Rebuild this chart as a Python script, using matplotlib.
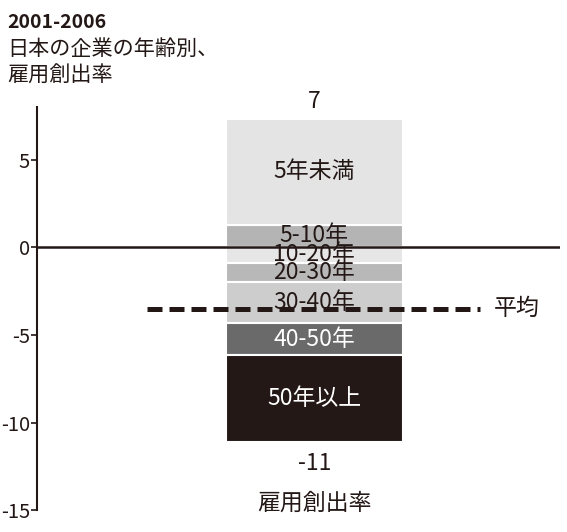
"""Stacked bar of job creation rate by firm age (Japan, 2001-2006)."""

import matplotlib

matplotlib.use("Agg")
import matplotlib.pyplot as plt

plt.rcParams["font.family"] = ["Noto Sans CJK JP", "DejaVu Sans"]

# segment data, in firm-age order
AGE_LABELS = ["5年未満", "5-10年", "10-20年", "20-30年", "30-40年", "40-50年", "50年以上"]
AGE_VALUES = [6.06, 1.28, -0.88, -1.08, -2.39, -1.78, -4.96]
AVERAGE = -3.5
TOTAL_POS_LABEL = "7"
TOTAL_NEG_LABEL = "-11"
Y_TICKS = [5, 0, -5, -10, -15]

SEG_COLORS = ["#e4e4e4", "#b4b4b4", "#e6e6e6", "#b8b8b8", "#cdcdcd", "#6a6a6a", "#231815"]
TEXT_COLORS = ["#231815"] * 5 + ["white", "white"]
INK = "#231815"

BAR_X = 0.53
BAR_W = 0.338
LABEL_SIZE = 16.5

fig = plt.figure(figsize=(5.67, 5.32), dpi=100)
ax = fig.add_axes([0.065, 0.041, 0.923, 0.758])

# positives stack upward from zero (5-10年 nearest zero), negatives downward
positives = [i for i, v in enumerate(AGE_VALUES) if v > 0][::-1]
negatives = [i for i, v in enumerate(AGE_VALUES) if v <= 0]
top = 0.0
bottom = 0.0
for idx in positives + negatives:
    value = AGE_VALUES[idx]
    if value > 0:
        base = top
        top += value
    else:
        base = bottom
        bottom += value
    ax.bar(BAR_X, value, BAR_W, bottom=base, color=SEG_COLORS[idx],
           edgecolor="white", linewidth=1.5, zorder=2)
    ax.text(BAR_X, base + value / 2, AGE_LABELS[idx], ha="center", va="center",
            fontsize=LABEL_SIZE, color=TEXT_COLORS[idx], zorder=5)

ax.axhline(0, color=INK, linewidth=1.8, zorder=3)
ax.plot([0.21, 0.847], [AVERAGE, AVERAGE], color=INK, linewidth=3.6,
        dashes=(3, 1.4), zorder=4)
ax.text(0.873, AVERAGE, "平均", ha="left", va="center", fontsize=LABEL_SIZE, color=INK)

ax.annotate(TOTAL_POS_LABEL, (BAR_X, top), xytext=(0, 12), textcoords="offset points",
            ha="center", va="center", fontsize=LABEL_SIZE, color=INK)
ax.annotate(TOTAL_NEG_LABEL, (BAR_X, bottom), xytext=(0, -16), textcoords="offset points",
            ha="center", va="center", fontsize=LABEL_SIZE, color=INK)
ax.annotate("雇用創出率", (BAR_X, bottom), xytext=(0, -44), textcoords="offset points",
            ha="center", va="center", fontsize=LABEL_SIZE, color=INK)

ax.set_xlim(0, 1)
ax.set_ylim(-15, 8)
ax.set_yticks(Y_TICKS)
ax.set_yticklabels([str(t) for t in Y_TICKS])
ax.set_xticks([])
for side in ("top", "right", "bottom"):
    ax.spines[side].set_visible(False)
ax.spines["left"].set_color(INK)
ax.spines["left"].set_linewidth(1.5)
ax.tick_params(axis="y", length=4, width=1.2, color=INK, labelsize=14.5,
               labelcolor=INK, pad=1)

fig.text(0.012, 0.958, "2001-2006", fontsize=14, fontweight="bold", color=INK,
         ha="left", va="center")
fig.text(0.012, 0.908, "日本の企業の年齢別、", fontsize=15.2, color=INK,
         ha="left", va="center")
fig.text(0.012, 0.857, "雇用創出率", fontsize=15.2, color=INK,
         ha="left", va="center")

fig.savefig("out.png", dpi=100)
